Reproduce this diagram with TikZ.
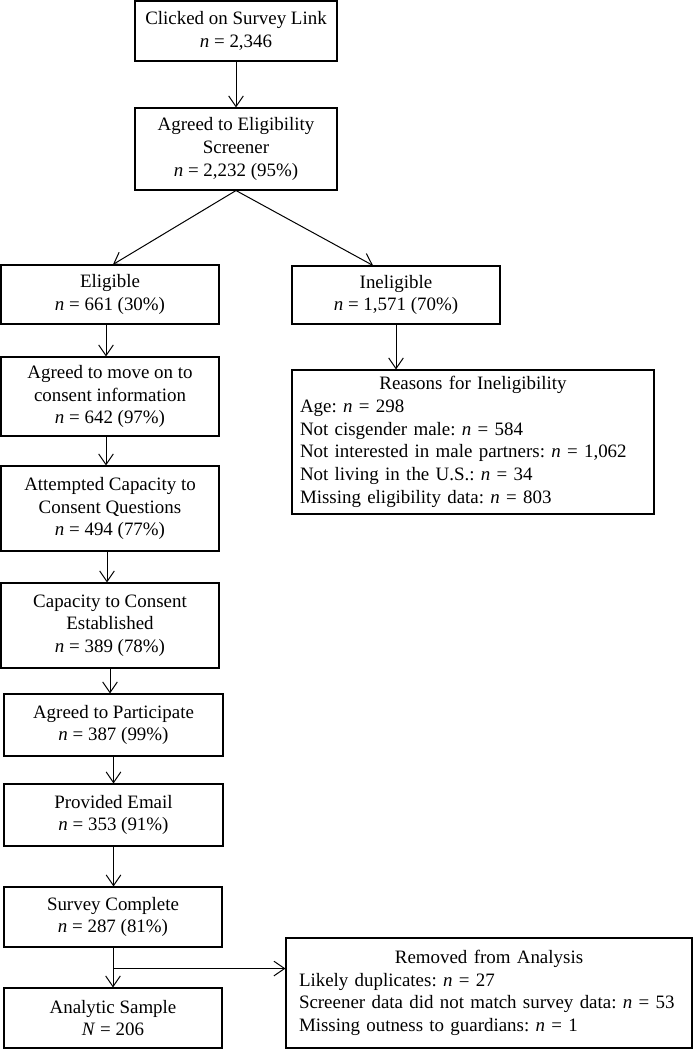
\documentclass[tikz,border=0pt]{standalone}
\usepackage{fontspec}
\setmainfont{Liberation Serif}
\usetikzlibrary{arrows.meta,calc}
\frenchspacing
\begin{document}
\begin{tikzpicture}[x=0.75pt,y=-0.75pt,
  txt/.style={font=\fontsize{14.2pt}{17pt}\selectfont\frenchspacing},
  wh/.style 2 args={minimum width=#1*0.75pt, minimum height=#2*0.75pt},
  box/.style={draw, line width=0.8pt, align=center, inner sep=0pt, txt},
  listbox/.style={draw, line width=0.8pt, align=left, inner ysep=0pt, txt},
  arr/.style={draw, line width=0.75pt, -{Straight Barb[length=8pt,width=11pt]}}]
\useasboundingbox (0,0) rectangle (694,1050);
\node[box, wh={202}{60}] (b1) at (236,31) {Clicked on Survey Link\\\textit{n} = 2,346};
\node[box, wh={202}{82}] (b2) at (236,149) {Agreed to Eligibility\\Screener\\\textit{n} = 2,232 (95\%)};
\node[box, wh={218}{59}] (b3) at (110,294.5) {Eligible\\\textit{n} = 661 (30\%)};
\node[box, wh={208}{58}] (b4) at (396,295) {Ineligible\\\textit{n} = 1,571 (70\%)};
\node[box, wh={218}{79}] (b5) at (110,396.5) {Agreed to move on to\\consent information\\\textit{n} = 642 (97\%)};
\node[box, wh={218}{85}] (b6) at (110,508.5) {Attempted Capacity to\\Consent Questions\\\textit{n} = 494 (77\%)};
\node[box, wh={218}{85}] (b7) at (110,625.5) {Capacity to Consent\\Established\\\textit{n} = 389 (78\%)};
\node[box, wh={219}{62}] (b8) at (113.5,725) {Agreed to Participate\\\textit{n} = 387 (99\%)};
\node[box, wh={219}{62}] (b9) at (113.5,815) {Provided Email\\\textit{n} = 353 (91\%)};
\node[box, wh={218}{60}] (b10) at (113,917) {Survey Complete\\\textit{n} = 287 (81\%)};
\node[box, wh={218}{60}] (b11) at (113,1018) {Analytic Sample\\\textit{N} = 206};
\node[listbox, inner xsep=6pt, text width=259.5pt, minimum height=108pt] (r) at (473,442)
 {\hfill Reasons for Ineligibility\hfill\null\\
  Age: \textit{n} = 298\\
  Not cisgender male: \textit{n} = 584\\
  Not interested in male partners: \textit{n} = 1,062\\
  Not living in the U.S.: \textit{n} = 34\\
  Missing eligibility data: \textit{n} = 803};
\node[listbox, inner xsep=9.75pt, text width=285pt, minimum height=82.5pt] (rm) at (489,993)
 {\hfill Removed from Analysis\hfill\null\\
  Likely duplicates: \textit{n} = 27\\
  Screener data did not match survey data: \textit{n} = 53\\
  Missing outness to guardians: \textit{n} = 1};
\draw[arr] (b1.south) -- (b2.north);
\draw[arr] (b2.south) -- ($(b3.north)+(3,0)$);
\draw[arr] (b2.south) -- ($(b4.north)+(-23,0)$);
\draw[arr] ($(b3.south)+(-4,0)$) -- ($(b5.north)+(-4,0)$);
\draw[arr] (b4.south) -- (b4.south |- r.north);
\draw[arr] ($(b5.south)+(-4,0)$) -- ($(b6.north)+(-4,0)$);
\draw[arr] ($(b6.south)+(-3,0)$) -- ($(b7.north)+(-3,0)$);
\draw[arr] (b7.south) -- (b7.south |- b8.north);
\draw[arr] (b8.south) -- (b9.north);
\draw[arr] (b9.south) -- (b9.south |- b10.north);
\draw[arr] (b10.south) -- (b11.north);
\coordinate (j) at ($(b10.south)+(0,21)$);
\draw[arr] (j) -- (j -| rm.west);
\end{tikzpicture}
\end{document}
